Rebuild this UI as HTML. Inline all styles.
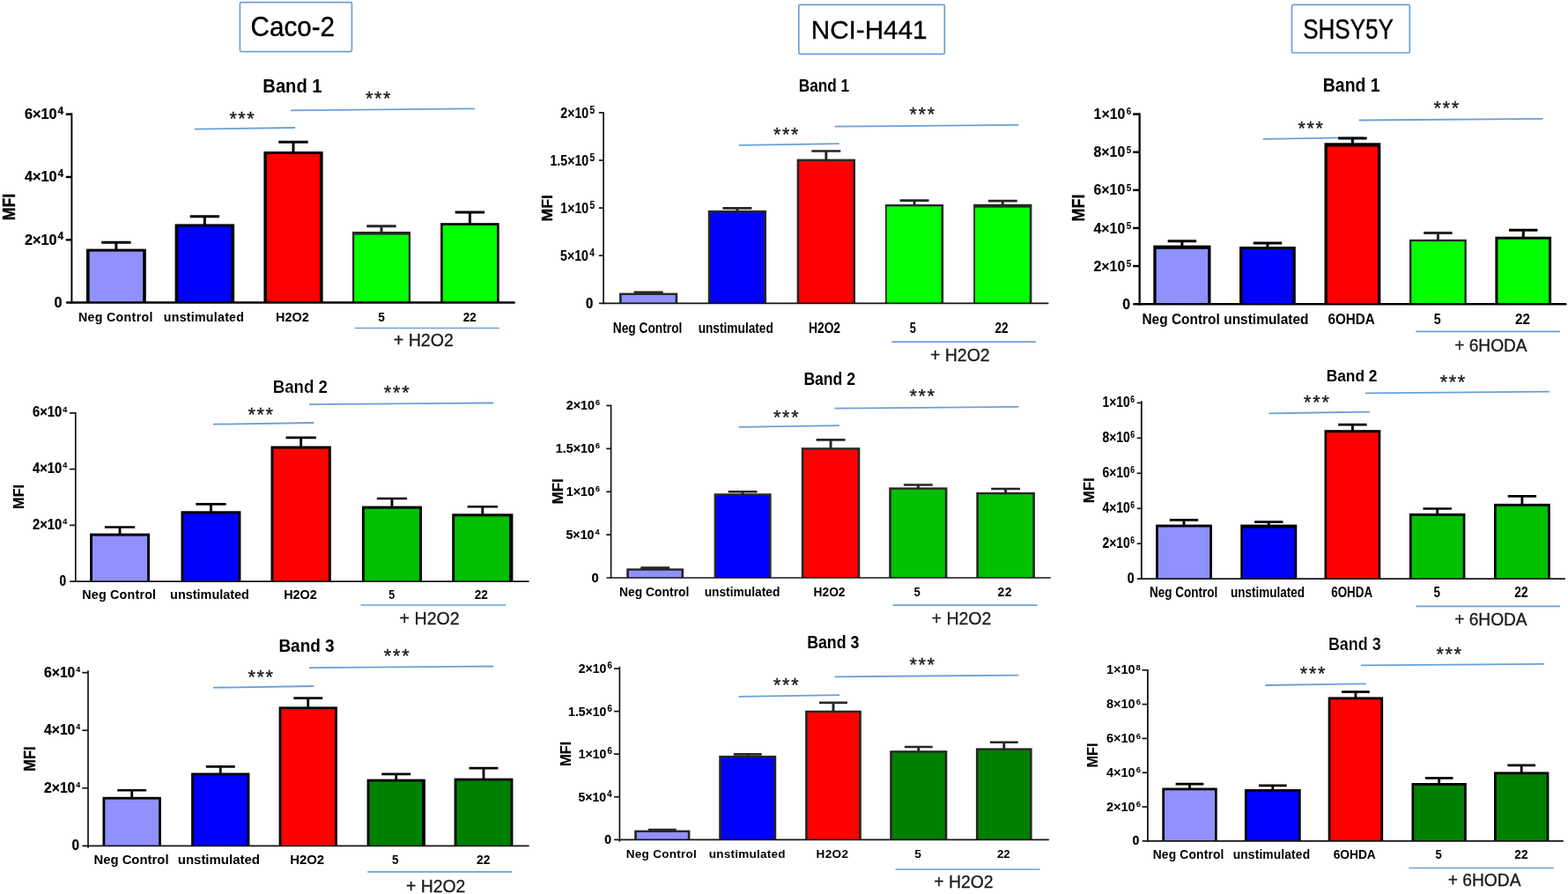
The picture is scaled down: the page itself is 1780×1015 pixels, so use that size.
<!DOCTYPE html>
<html lang="en">
<head>
<meta charset="utf-8">
<title>MFI bar charts: Caco-2, NCI-H441, SHSY5Y</title>
<style>
html,body{margin:0;padding:0;background:#fff;}
body{width:1780px;height:1015px;overflow:hidden;}
svg{display:block;font-family:"Liberation Sans",sans-serif;}
</style>
</head>
<body>
<svg width="1780" height="1015" viewBox="0 0 1780 1015">
<rect width="1780" height="1015" fill="#fff"/>
<g>
<line x1="221.50" y1="146.60" x2="334.40" y2="145.00" stroke="#6aa0d7" stroke-width="1.8" stroke-linecap="round"/>
<line x1="330.70" y1="125.40" x2="538.00" y2="123.40" stroke="#6aa0d7" stroke-width="1.8" stroke-linecap="round"/>
<line x1="131.90" y1="275.20" x2="131.90" y2="283.60" stroke="#000" stroke-width="3.0" stroke-linecap="butt"/>
<line x1="115.20" y1="275.20" x2="148.60" y2="275.20" stroke="#000" stroke-width="3.0" stroke-linecap="butt"/>
<rect x="98.00" y="282.60" width="67.80" height="61.00" fill="#000"/>
<rect x="101.60" y="285.60" width="60.60" height="58.00" fill="#9090ff"/>
<line x1="232.35" y1="245.80" x2="232.35" y2="255.40" stroke="#000" stroke-width="3.0" stroke-linecap="butt"/>
<line x1="215.65" y1="245.80" x2="249.05" y2="245.80" stroke="#000" stroke-width="3.0" stroke-linecap="butt"/>
<rect x="198.60" y="254.40" width="67.50" height="89.20" fill="#000"/>
<rect x="202.20" y="257.40" width="60.30" height="86.20" fill="#0000ff"/>
<line x1="333.00" y1="161.30" x2="333.00" y2="173.00" stroke="#000" stroke-width="3.0" stroke-linecap="butt"/>
<line x1="316.30" y1="161.30" x2="349.70" y2="161.30" stroke="#000" stroke-width="3.0" stroke-linecap="butt"/>
<rect x="299.40" y="172.00" width="67.20" height="171.60" fill="#000"/>
<rect x="303.00" y="175.00" width="60.00" height="168.60" fill="#ff0000"/>
<line x1="433.00" y1="256.70" x2="433.00" y2="264.00" stroke="#262626" stroke-width="3.0" stroke-linecap="butt"/>
<line x1="416.30" y1="256.70" x2="449.70" y2="256.70" stroke="#262626" stroke-width="3.0" stroke-linecap="butt"/>
<rect x="400.00" y="263.00" width="66.00" height="80.60" fill="#262626"/>
<rect x="402.20" y="266.60" width="61.60" height="77.00" fill="#00ff00"/>
<line x1="533.40" y1="241.00" x2="533.40" y2="254.20" stroke="#000" stroke-width="3.0" stroke-linecap="butt"/>
<line x1="516.70" y1="241.00" x2="550.10" y2="241.00" stroke="#000" stroke-width="3.0" stroke-linecap="butt"/>
<rect x="500.10" y="253.20" width="66.60" height="90.40" fill="#000"/>
<rect x="502.70" y="255.80" width="61.40" height="87.80" fill="#00ff00"/>
<line x1="81.40" y1="128.40" x2="81.40" y2="344.85" stroke="#000" stroke-width="1.9" stroke-linecap="butt"/>
<line x1="76.05" y1="343.60" x2="583.65" y2="343.60" stroke="#000" stroke-width="2.5" stroke-linecap="round"/>
<line x1="74.80" y1="129.65" x2="81.40" y2="129.65" stroke="#000" stroke-width="2.5" stroke-linecap="butt"/>
<text transform="translate(27.99,135.05) scale(0.9999,1)" font-size="16.3" font-weight="bold" fill="#000" stroke="#000" stroke-width="0.25">6×10<tspan dx="0.80" dy="-5.20" font-size="12">4</tspan></text>
<line x1="74.80" y1="200.97" x2="81.40" y2="200.97" stroke="#000" stroke-width="2.5" stroke-linecap="butt"/>
<text transform="translate(27.99,206.37) scale(0.9999,1)" font-size="16.3" font-weight="bold" fill="#000" stroke="#000" stroke-width="0.25">4×10<tspan dx="0.80" dy="-5.20" font-size="12">4</tspan></text>
<line x1="74.80" y1="272.28" x2="81.40" y2="272.28" stroke="#000" stroke-width="2.5" stroke-linecap="butt"/>
<text transform="translate(27.99,277.68) scale(0.9999,1)" font-size="16.3" font-weight="bold" fill="#000" stroke="#000" stroke-width="0.25">2×10<tspan dx="0.80" dy="-5.20" font-size="12">4</tspan></text>
<text transform="translate(61.55,349.00) scale(0.9945,1)" font-size="16.3" font-weight="bold" fill="#000" stroke="#000" stroke-width="0.25">0</text>
<text transform="translate(16.80,250.19) rotate(-90) scale(0.8863,1)" font-size="19.9" font-weight="bold" fill="#000" stroke="#000" stroke-width="0.35">MFI</text>
<text transform="translate(298.34,104.60) scale(0.9045,1)" font-size="22.3" font-weight="bold" fill="#000">Band 1</text>
<text x="260.42" y="141.53" font-size="21.5" font-weight="normal" fill="#1a1a1a" letter-spacing="1.576" stroke="#1a1a1a" stroke-width="0.35">***</text>
<text x="415.12" y="119.03" font-size="21.5" font-weight="normal" fill="#1a1a1a" letter-spacing="1.626" stroke="#1a1a1a" stroke-width="0.35">***</text>
<text x="89.04" y="364.90" font-size="14.2" font-weight="bold" fill="#000" letter-spacing="0.319">Neg Control</text>
<text x="185.81" y="364.90" font-size="14.2" font-weight="bold" fill="#000" letter-spacing="0.259">unstimulated</text>
<text transform="translate(313.03,364.90) scale(1.0149,1)" font-size="14.2" font-weight="bold" fill="#000">H2O2</text>
<text transform="translate(429.19,364.90) scale(0.9626,1)" font-size="14.2" font-weight="bold" fill="#000">5</text>
<text transform="translate(525.83,364.90) scale(0.9435,1)" font-size="14.2" font-weight="bold" fill="#000">22</text>
<line x1="402.80" y1="372.50" x2="566.90" y2="372.50" stroke="#6aa0d7" stroke-width="1.7" stroke-linecap="butt"/>
<text transform="translate(446.82,393.20) scale(0.9892,1)" font-size="19.8" font-weight="normal" fill="#1a1a1a" stroke="#1a1a1a" stroke-width="0.3">+ H2O2</text>
</g>
<g>
<line x1="242.70" y1="481.70" x2="355.60" y2="480.00" stroke="#6aa0d7" stroke-width="1.8" stroke-linecap="round"/>
<line x1="351.60" y1="459.20" x2="559.50" y2="457.50" stroke="#6aa0d7" stroke-width="1.8" stroke-linecap="round"/>
<line x1="136.05" y1="598.50" x2="136.05" y2="606.60" stroke="#000" stroke-width="2.8" stroke-linecap="butt"/>
<line x1="118.90" y1="598.50" x2="153.20" y2="598.50" stroke="#000" stroke-width="2.6" stroke-linecap="butt"/>
<rect x="102.10" y="605.60" width="67.90" height="54.50" fill="#000"/>
<rect x="105.00" y="608.60" width="62.10" height="51.50" fill="#9090ff"/>
<line x1="239.45" y1="572.40" x2="239.45" y2="581.30" stroke="#000" stroke-width="2.8" stroke-linecap="butt"/>
<line x1="222.30" y1="572.40" x2="256.60" y2="572.40" stroke="#000" stroke-width="2.6" stroke-linecap="butt"/>
<rect x="205.50" y="580.30" width="67.90" height="79.80" fill="#000"/>
<rect x="208.40" y="583.30" width="62.10" height="76.80" fill="#0000ff"/>
<line x1="341.65" y1="496.90" x2="341.65" y2="507.50" stroke="#000" stroke-width="2.8" stroke-linecap="butt"/>
<line x1="324.50" y1="496.90" x2="358.80" y2="496.90" stroke="#000" stroke-width="2.6" stroke-linecap="butt"/>
<rect x="307.50" y="506.50" width="68.30" height="153.60" fill="#000"/>
<rect x="310.40" y="509.50" width="62.50" height="150.60" fill="#ff0000"/>
<line x1="444.95" y1="566.00" x2="444.95" y2="575.60" stroke="#000" stroke-width="2.8" stroke-linecap="butt"/>
<line x1="427.80" y1="566.00" x2="462.10" y2="566.00" stroke="#000" stroke-width="2.6" stroke-linecap="butt"/>
<rect x="410.90" y="574.60" width="68.10" height="85.50" fill="#000"/>
<rect x="413.80" y="577.60" width="62.30" height="82.50" fill="#00c000"/>
<line x1="547.80" y1="575.20" x2="547.80" y2="584.30" stroke="#000" stroke-width="2.8" stroke-linecap="butt"/>
<line x1="530.65" y1="575.20" x2="564.95" y2="575.20" stroke="#000" stroke-width="2.6" stroke-linecap="butt"/>
<rect x="513.20" y="583.30" width="69.20" height="76.80" fill="#000"/>
<rect x="516.10" y="586.30" width="62.00" height="73.80" fill="#00c000"/>
<line x1="85.80" y1="468.05" x2="85.80" y2="660.95" stroke="#141414" stroke-width="1.7" stroke-linecap="butt"/>
<line x1="79.85" y1="660.10" x2="599.95" y2="660.10" stroke="#141414" stroke-width="1.7" stroke-linecap="round"/>
<line x1="79.00" y1="468.90" x2="85.80" y2="468.90" stroke="#141414" stroke-width="1.7" stroke-linecap="butt"/>
<text transform="translate(36.95,473.40) scale(0.9343,1)" font-size="15.8" font-weight="bold" fill="#000" stroke="#000" stroke-width="0.2">6×10<tspan dx="1.20" dy="-5.90" font-size="9.5">4</tspan></text>
<line x1="79.00" y1="532.63" x2="85.80" y2="532.63" stroke="#141414" stroke-width="1.7" stroke-linecap="butt"/>
<text transform="translate(36.95,537.13) scale(0.9343,1)" font-size="15.8" font-weight="bold" fill="#000" stroke="#000" stroke-width="0.2">4×10<tspan dx="1.20" dy="-5.90" font-size="9.5">4</tspan></text>
<line x1="79.00" y1="596.37" x2="85.80" y2="596.37" stroke="#141414" stroke-width="1.7" stroke-linecap="butt"/>
<text transform="translate(36.95,600.87) scale(0.9343,1)" font-size="15.8" font-weight="bold" fill="#000" stroke="#000" stroke-width="0.2">2×10<tspan dx="1.20" dy="-5.90" font-size="9.5">4</tspan></text>
<text transform="translate(67.45,664.60) scale(0.8661,1)" font-size="15.8" font-weight="bold" fill="#000" stroke="#000" stroke-width="0.25">0</text>
<text transform="translate(26.80,577.90) rotate(-90) scale(0.9732,1)" font-size="16.7" font-weight="bold" fill="#000" stroke="#000" stroke-width="0.1">MFI</text>
<text transform="translate(309.64,445.80) scale(0.9357,1)" font-size="20" font-weight="bold" fill="#000" stroke="#fff" stroke-width="0.18">Band 2</text>
<text x="281.62" y="478.03" font-size="21.5" font-weight="normal" fill="#1a1a1a" letter-spacing="1.626" stroke="#1a1a1a" stroke-width="0.35">***</text>
<text x="435.82" y="453.43" font-size="21.5" font-weight="normal" fill="#1a1a1a" letter-spacing="1.876" stroke="#1a1a1a" stroke-width="0.35">***</text>
<text x="93.23" y="679.90" font-size="14.3" font-weight="bold" fill="#000" letter-spacing="0.203">Neg Control</text>
<text transform="translate(193.10,679.90) scale(1.0097,1)" font-size="14.3" font-weight="bold" fill="#000">unstimulated</text>
<text transform="translate(322.13,679.90) scale(1.0078,1)" font-size="14.3" font-weight="bold" fill="#000">H2O2</text>
<text transform="translate(441.13,679.90) scale(0.8715,1)" font-size="14.3" font-weight="bold" fill="#000">5</text>
<text transform="translate(538.72,679.90) scale(0.9571,1)" font-size="14.3" font-weight="bold" fill="#000">22</text>
<line x1="409.50" y1="687.00" x2="574.00" y2="687.00" stroke="#6aa0d7" stroke-width="1.7" stroke-linecap="butt"/>
<text transform="translate(453.62,709.10) scale(0.9892,1)" font-size="19.8" font-weight="normal" fill="#1a1a1a" stroke="#1a1a1a" stroke-width="0.3">+ H2O2</text>
</g>
<g>
<line x1="242.70" y1="780.70" x2="355.60" y2="779.00" stroke="#6aa0d7" stroke-width="1.8" stroke-linecap="round"/>
<line x1="351.60" y1="758.10" x2="559.50" y2="756.50" stroke="#6aa0d7" stroke-width="1.8" stroke-linecap="round"/>
<line x1="149.70" y1="897.20" x2="149.70" y2="905.80" stroke="#000" stroke-width="2.8" stroke-linecap="butt"/>
<line x1="133.25" y1="897.20" x2="166.15" y2="897.20" stroke="#000" stroke-width="2.6" stroke-linecap="butt"/>
<rect x="116.50" y="904.80" width="66.40" height="55.50" fill="#000"/>
<rect x="119.30" y="907.60" width="60.80" height="52.70" fill="#9090ff"/>
<line x1="250.25" y1="870.40" x2="250.25" y2="878.50" stroke="#000" stroke-width="2.8" stroke-linecap="butt"/>
<line x1="233.80" y1="870.40" x2="266.70" y2="870.40" stroke="#000" stroke-width="2.6" stroke-linecap="butt"/>
<rect x="217.10" y="877.50" width="66.30" height="82.80" fill="#000"/>
<rect x="219.90" y="880.30" width="60.70" height="80.00" fill="#0000ff"/>
<line x1="349.75" y1="792.60" x2="349.75" y2="803.40" stroke="#000" stroke-width="2.8" stroke-linecap="butt"/>
<line x1="333.30" y1="792.60" x2="366.20" y2="792.60" stroke="#000" stroke-width="2.6" stroke-linecap="butt"/>
<rect x="316.60" y="802.40" width="66.30" height="157.90" fill="#000"/>
<rect x="319.40" y="805.20" width="60.70" height="155.10" fill="#ff0000"/>
<line x1="449.75" y1="878.90" x2="449.75" y2="885.60" stroke="#000" stroke-width="2.8" stroke-linecap="butt"/>
<line x1="433.30" y1="878.90" x2="466.20" y2="878.90" stroke="#000" stroke-width="2.6" stroke-linecap="butt"/>
<rect x="416.60" y="884.60" width="66.30" height="75.70" fill="#000"/>
<rect x="419.40" y="887.40" width="59.70" height="72.90" fill="#008000"/>
<line x1="549.00" y1="872.10" x2="549.00" y2="884.60" stroke="#000" stroke-width="2.8" stroke-linecap="butt"/>
<line x1="532.55" y1="872.10" x2="565.45" y2="872.10" stroke="#000" stroke-width="2.6" stroke-linecap="butt"/>
<rect x="515.60" y="883.60" width="66.80" height="76.70" fill="#000"/>
<rect x="518.40" y="886.40" width="61.20" height="73.90" fill="#008000"/>
<line x1="100.00" y1="761.20" x2="100.00" y2="962.65" stroke="#141414" stroke-width="1.7" stroke-linecap="butt"/>
<line x1="94.15" y1="960.30" x2="599.95" y2="960.30" stroke="#141414" stroke-width="1.7" stroke-linecap="round"/>
<line x1="93.30" y1="763.65" x2="100.00" y2="763.65" stroke="#141414" stroke-width="1.7" stroke-linecap="butt"/>
<text transform="translate(50.01,768.65) scale(0.9624,1)" font-size="16.3" font-weight="bold" fill="#000" stroke="#000" stroke-width="0.25">6×10<tspan dx="1.20" dy="-5.90" font-size="8.5">4</tspan></text>
<line x1="93.30" y1="829.20" x2="100.00" y2="829.20" stroke="#141414" stroke-width="1.7" stroke-linecap="butt"/>
<text transform="translate(50.01,834.20) scale(0.9624,1)" font-size="16.3" font-weight="bold" fill="#000" stroke="#000" stroke-width="0.25">4×10<tspan dx="1.20" dy="-5.90" font-size="8.5">4</tspan></text>
<line x1="93.30" y1="894.75" x2="100.00" y2="894.75" stroke="#141414" stroke-width="1.7" stroke-linecap="butt"/>
<text transform="translate(50.01,899.75) scale(0.9624,1)" font-size="16.3" font-weight="bold" fill="#000" stroke="#000" stroke-width="0.25">2×10<tspan dx="1.20" dy="-5.90" font-size="8.5">4</tspan></text>
<text transform="translate(81.39,965.30) scale(0.9428,1)" font-size="16.3" font-weight="bold" fill="#000" stroke="#000" stroke-width="0.25">0</text>
<text transform="translate(39.80,875.71) rotate(-90) scale(0.9150,1)" font-size="17.9" font-weight="bold" fill="#000" stroke="#000" stroke-width="0.3">MFI</text>
<text transform="translate(316.42,740.30) scale(0.9732,1)" font-size="19.5" font-weight="bold" fill="#000">Band 3</text>
<text x="281.62" y="775.73" font-size="21.5" font-weight="normal" fill="#1a1a1a" letter-spacing="1.626" stroke="#1a1a1a" stroke-width="0.35">***</text>
<text x="435.82" y="752.33" font-size="21.5" font-weight="normal" fill="#1a1a1a" letter-spacing="1.876" stroke="#1a1a1a" stroke-width="0.35">***</text>
<text transform="translate(106.39,981.20) scale(1.0066,1)" font-size="14.8" font-weight="bold" fill="#000">Neg Control</text>
<text transform="translate(201.76,981.20) scale(1.0132,1)" font-size="14.8" font-weight="bold" fill="#000">unstimulated</text>
<text transform="translate(329.19,981.20) scale(1.0061,1)" font-size="14.8" font-weight="bold" fill="#000">H2O2</text>
<text transform="translate(445.10,981.20) scale(0.9100,1)" font-size="14.8" font-weight="bold" fill="#000">5</text>
<text transform="translate(541.02,981.20) scale(0.9313,1)" font-size="14.8" font-weight="bold" fill="#000">22</text>
<line x1="417.30" y1="989.90" x2="580.90" y2="989.90" stroke="#6aa0d7" stroke-width="1.7" stroke-linecap="butt"/>
<text transform="translate(461.03,1013.40) scale(0.9787,1)" font-size="19.8" font-weight="normal" fill="#1a1a1a" stroke="#1a1a1a" stroke-width="0.3">+ H2O2</text>
</g>
<g>
<line x1="839.40" y1="164.80" x2="952.00" y2="163.10" stroke="#6aa0d7" stroke-width="1.8" stroke-linecap="round"/>
<line x1="948.30" y1="143.60" x2="1155.60" y2="141.90" stroke="#6aa0d7" stroke-width="1.8" stroke-linecap="round"/>
<line x1="719.65" y1="331.80" x2="752.65" y2="331.80" stroke="#262626" stroke-width="2.6" stroke-linecap="butt"/>
<rect x="703.10" y="332.60" width="66.10" height="11.70" fill="#262626"/>
<rect x="705.70" y="335.00" width="60.90" height="9.30" fill="#9090ff"/>
<line x1="836.90" y1="236.40" x2="836.90" y2="239.90" stroke="#262626" stroke-width="2.9" stroke-linecap="butt"/>
<line x1="820.40" y1="236.40" x2="853.40" y2="236.40" stroke="#262626" stroke-width="2.6" stroke-linecap="butt"/>
<rect x="803.80" y="238.90" width="66.20" height="105.40" fill="#262626"/>
<rect x="806.40" y="241.30" width="61.00" height="103.00" fill="#0000ff"/>
<line x1="937.80" y1="171.50" x2="937.80" y2="181.60" stroke="#262626" stroke-width="2.9" stroke-linecap="butt"/>
<line x1="921.30" y1="171.50" x2="954.30" y2="171.50" stroke="#262626" stroke-width="2.6" stroke-linecap="butt"/>
<rect x="904.60" y="180.60" width="66.40" height="163.70" fill="#262626"/>
<rect x="907.20" y="183.00" width="61.20" height="161.30" fill="#ff0000"/>
<line x1="1038.00" y1="227.60" x2="1038.00" y2="233.00" stroke="#262626" stroke-width="2.9" stroke-linecap="butt"/>
<line x1="1021.50" y1="227.60" x2="1054.50" y2="227.60" stroke="#262626" stroke-width="2.6" stroke-linecap="butt"/>
<rect x="1004.90" y="232.00" width="66.20" height="112.30" fill="#262626"/>
<rect x="1006.70" y="234.40" width="61.80" height="109.90" fill="#00ff00"/>
<line x1="1138.25" y1="228.10" x2="1138.25" y2="232.80" stroke="#262626" stroke-width="2.9" stroke-linecap="butt"/>
<line x1="1121.75" y1="228.10" x2="1154.75" y2="228.10" stroke="#262626" stroke-width="2.6" stroke-linecap="butt"/>
<rect x="1105.10" y="231.80" width="66.30" height="112.50" fill="#262626"/>
<rect x="1106.90" y="235.70" width="61.90" height="108.60" fill="#00ff00"/>
<line x1="685.10" y1="127.05" x2="685.10" y2="345.15" stroke="#141414" stroke-width="1.7" stroke-linecap="butt"/>
<line x1="680.75" y1="344.30" x2="1189.65" y2="344.30" stroke="#141414" stroke-width="1.7" stroke-linecap="round"/>
<line x1="679.90" y1="127.90" x2="685.10" y2="127.90" stroke="#141414" stroke-width="1.7" stroke-linecap="butt"/>
<text transform="translate(636.30,133.50) scale(0.8535,1)" font-size="16.6" font-weight="bold" fill="#000" stroke="#000" stroke-width="0.1">2×10<tspan dx="1.50" dy="-5.00" font-size="12">5</tspan></text>
<line x1="679.90" y1="182.00" x2="685.10" y2="182.00" stroke="#141414" stroke-width="1.7" stroke-linecap="butt"/>
<text transform="translate(624.49,187.60) scale(0.8535,1)" font-size="16.6" font-weight="bold" fill="#000" stroke="#000" stroke-width="0.1">1.5×10<tspan dx="1.50" dy="-5.00" font-size="12">5</tspan></text>
<line x1="679.90" y1="236.10" x2="685.10" y2="236.10" stroke="#141414" stroke-width="1.7" stroke-linecap="butt"/>
<text transform="translate(636.30,241.70) scale(0.8535,1)" font-size="16.6" font-weight="bold" fill="#000" stroke="#000" stroke-width="0.1">1×10<tspan dx="1.50" dy="-5.00" font-size="12">5</tspan></text>
<line x1="679.90" y1="290.20" x2="685.10" y2="290.20" stroke="#141414" stroke-width="1.7" stroke-linecap="butt"/>
<text transform="translate(636.07,295.80) scale(0.8535,1)" font-size="16.6" font-weight="bold" fill="#000" stroke="#000" stroke-width="0.1">5×10<tspan dx="1.50" dy="-5.00" font-size="12">4</tspan></text>
<text transform="translate(665.00,349.90) scale(0.9004,1)" font-size="16.6" font-weight="bold" fill="#000" stroke="#000" stroke-width="0.25">0</text>
<text transform="translate(627.20,251.39) rotate(-90) scale(1.0375,1)" font-size="17.0" font-weight="bold" fill="#000" stroke="#000" stroke-width="0.3">MFI</text>
<text transform="translate(906.84,103.50) scale(0.8475,1)" font-size="20.3" font-weight="bold" fill="#000">Band 1</text>
<text x="878.02" y="160.43" font-size="21.5" font-weight="normal" fill="#1a1a1a" letter-spacing="1.626" stroke="#1a1a1a" stroke-width="0.35">***</text>
<text x="1032.42" y="136.63" font-size="21.5" font-weight="normal" fill="#1a1a1a" letter-spacing="1.776" stroke="#1a1a1a" stroke-width="0.35">***</text>
<text transform="translate(695.77,378.00) scale(0.8436,1)" font-size="16.3" font-weight="bold" fill="#000">Neg Control</text>
<text transform="translate(792.64,378.00) scale(0.8405,1)" font-size="16.3" font-weight="bold" fill="#000">unstimulated</text>
<text transform="translate(918.07,378.00) scale(0.8449,1)" font-size="16.3" font-weight="bold" fill="#000">H2O2</text>
<text transform="translate(1032.82,378.00) scale(0.7769,1)" font-size="16.3" font-weight="bold" fill="#000">5</text>
<text transform="translate(1129.53,378.00) scale(0.8279,1)" font-size="16.3" font-weight="bold" fill="#000">22</text>
<line x1="1012.40" y1="388.10" x2="1175.80" y2="388.10" stroke="#6aa0d7" stroke-width="1.7" stroke-linecap="butt"/>
<text transform="translate(1056.02,410.20) scale(0.9847,1)" font-size="19.8" font-weight="normal" fill="#1a1a1a" stroke="#1a1a1a" stroke-width="0.3">+ H2O2</text>
</g>
<g>
<line x1="839.30" y1="484.80" x2="952.20" y2="483.10" stroke="#6aa0d7" stroke-width="1.8" stroke-linecap="round"/>
<line x1="948.20" y1="463.60" x2="1155.50" y2="461.90" stroke="#6aa0d7" stroke-width="1.8" stroke-linecap="round"/>
<line x1="727.25" y1="644.60" x2="760.15" y2="644.60" stroke="#262626" stroke-width="2.6" stroke-linecap="butt"/>
<rect x="711.30" y="645.40" width="64.80" height="10.60" fill="#262626"/>
<rect x="713.90" y="647.80" width="59.60" height="8.20" fill="#9090ff"/>
<line x1="843.10" y1="558.20" x2="843.10" y2="561.30" stroke="#262626" stroke-width="2.9" stroke-linecap="butt"/>
<line x1="826.65" y1="558.20" x2="859.55" y2="558.20" stroke="#262626" stroke-width="2.6" stroke-linecap="butt"/>
<rect x="810.60" y="560.30" width="65.00" height="95.70" fill="#262626"/>
<rect x="813.20" y="562.70" width="59.80" height="93.30" fill="#0000ff"/>
<line x1="943.05" y1="499.40" x2="943.05" y2="509.20" stroke="#262626" stroke-width="2.9" stroke-linecap="butt"/>
<line x1="926.60" y1="499.40" x2="959.50" y2="499.40" stroke="#262626" stroke-width="2.6" stroke-linecap="butt"/>
<rect x="909.80" y="508.20" width="66.50" height="147.80" fill="#262626"/>
<rect x="912.40" y="510.60" width="61.30" height="145.40" fill="#ff0000"/>
<line x1="1042.30" y1="550.50" x2="1042.30" y2="554.40" stroke="#262626" stroke-width="2.9" stroke-linecap="butt"/>
<line x1="1025.85" y1="550.50" x2="1058.75" y2="550.50" stroke="#262626" stroke-width="2.6" stroke-linecap="butt"/>
<rect x="1009.20" y="553.40" width="66.20" height="102.60" fill="#262626"/>
<rect x="1011.80" y="555.80" width="61.00" height="100.20" fill="#00c000"/>
<line x1="1141.60" y1="555.00" x2="1141.60" y2="559.90" stroke="#262626" stroke-width="2.9" stroke-linecap="butt"/>
<line x1="1125.15" y1="555.00" x2="1158.05" y2="555.00" stroke="#262626" stroke-width="2.6" stroke-linecap="butt"/>
<rect x="1108.30" y="558.90" width="66.60" height="97.10" fill="#262626"/>
<rect x="1110.90" y="561.30" width="61.40" height="94.70" fill="#00c000"/>
<line x1="693.60" y1="459.65" x2="693.60" y2="656.85" stroke="#141414" stroke-width="1.7" stroke-linecap="butt"/>
<line x1="689.15" y1="656.00" x2="1192.15" y2="656.00" stroke="#141414" stroke-width="1.7" stroke-linecap="round"/>
<line x1="688.30" y1="460.50" x2="693.60" y2="460.50" stroke="#141414" stroke-width="1.7" stroke-linecap="butt"/>
<text transform="translate(642.70,465.40) scale(0.9388,1)" font-size="15.2" font-weight="bold" fill="#000" stroke="#000" stroke-width="0.15">2×10<tspan dx="1.30" dy="-5.30" font-size="9.5">6</tspan></text>
<line x1="688.30" y1="509.38" x2="693.60" y2="509.38" stroke="#141414" stroke-width="1.7" stroke-linecap="butt"/>
<text transform="translate(630.80,514.27) scale(0.9388,1)" font-size="15.2" font-weight="bold" fill="#000" stroke="#000" stroke-width="0.15">1.5×10<tspan dx="1.30" dy="-5.30" font-size="9.5">6</tspan></text>
<line x1="688.30" y1="558.25" x2="693.60" y2="558.25" stroke="#141414" stroke-width="1.7" stroke-linecap="butt"/>
<text transform="translate(642.70,563.15) scale(0.9388,1)" font-size="15.2" font-weight="bold" fill="#000" stroke="#000" stroke-width="0.15">1×10<tspan dx="1.30" dy="-5.30" font-size="9.5">6</tspan></text>
<line x1="688.30" y1="607.12" x2="693.60" y2="607.12" stroke="#141414" stroke-width="1.7" stroke-linecap="butt"/>
<text transform="translate(642.43,612.02) scale(0.9388,1)" font-size="15.2" font-weight="bold" fill="#000" stroke="#000" stroke-width="0.15">5×10<tspan dx="1.30" dy="-5.30" font-size="9.5">4</tspan></text>
<text transform="translate(671.41,660.90) scale(0.9695,1)" font-size="15.2" font-weight="bold" fill="#000" stroke="#000" stroke-width="0.25">0</text>
<text transform="translate(639.00,572.13) rotate(-90) scale(0.9915,1)" font-size="16.9" font-weight="bold" fill="#000" stroke="#000" stroke-width="0.25">MFI</text>
<text transform="translate(912.41,436.70) scale(0.8784,1)" font-size="20" font-weight="bold" fill="#000">Band 2</text>
<text x="877.92" y="480.83" font-size="21.5" font-weight="normal" fill="#1a1a1a" letter-spacing="1.776" stroke="#1a1a1a" stroke-width="0.35">***</text>
<text x="1032.62" y="457.33" font-size="21.5" font-weight="normal" fill="#1a1a1a" letter-spacing="1.626" stroke="#1a1a1a" stroke-width="0.35">***</text>
<text transform="translate(703.06,676.70) scale(0.9983,1)" font-size="13.9" font-weight="bold" fill="#000">Neg Control</text>
<text transform="translate(799.64,676.70) scale(0.9915,1)" font-size="13.9" font-weight="bold" fill="#000">unstimulated</text>
<text transform="translate(923.57,676.70) scale(0.9908,1)" font-size="13.9" font-weight="bold" fill="#000">H2O2</text>
<text transform="translate(1037.61,676.70) scale(0.9400,1)" font-size="13.9" font-weight="bold" fill="#000">5</text>
<text x="1132.61" y="676.70" font-size="13.9" font-weight="bold" fill="#000" letter-spacing="0.379">22</text>
<line x1="1013.60" y1="687.10" x2="1177.40" y2="687.10" stroke="#6aa0d7" stroke-width="1.7" stroke-linecap="butt"/>
<text transform="translate(1057.62,708.80) scale(0.9847,1)" font-size="19.8" font-weight="normal" fill="#1a1a1a" stroke="#1a1a1a" stroke-width="0.3">+ H2O2</text>
</g>
<g>
<line x1="839.30" y1="790.80" x2="952.20" y2="789.20" stroke="#6aa0d7" stroke-width="1.8" stroke-linecap="round"/>
<line x1="948.20" y1="768.30" x2="1155.50" y2="766.60" stroke="#6aa0d7" stroke-width="1.8" stroke-linecap="round"/>
<line x1="735.85" y1="942.10" x2="767.75" y2="942.10" stroke="#262626" stroke-width="2.6" stroke-linecap="butt"/>
<rect x="720.20" y="942.60" width="63.20" height="10.70" fill="#262626"/>
<rect x="722.80" y="945.00" width="58.00" height="8.30" fill="#9090ff"/>
<line x1="848.70" y1="856.40" x2="848.70" y2="858.90" stroke="#262626" stroke-width="2.9" stroke-linecap="butt"/>
<line x1="832.75" y1="856.40" x2="864.65" y2="856.40" stroke="#262626" stroke-width="2.6" stroke-linecap="butt"/>
<rect x="816.20" y="857.90" width="65.00" height="95.40" fill="#262626"/>
<rect x="818.80" y="860.30" width="59.80" height="93.00" fill="#0000ff"/>
<line x1="945.95" y1="797.80" x2="945.95" y2="807.70" stroke="#262626" stroke-width="2.9" stroke-linecap="butt"/>
<line x1="930.00" y1="797.80" x2="961.90" y2="797.80" stroke="#262626" stroke-width="2.6" stroke-linecap="butt"/>
<rect x="914.10" y="806.70" width="63.70" height="146.60" fill="#262626"/>
<rect x="916.70" y="809.10" width="58.50" height="144.20" fill="#ff0000"/>
<line x1="1042.75" y1="848.00" x2="1042.75" y2="853.20" stroke="#262626" stroke-width="2.9" stroke-linecap="butt"/>
<line x1="1026.80" y1="848.00" x2="1058.70" y2="848.00" stroke="#262626" stroke-width="2.6" stroke-linecap="butt"/>
<rect x="1010.20" y="852.20" width="65.10" height="101.10" fill="#262626"/>
<rect x="1012.80" y="854.60" width="59.90" height="98.70" fill="#008000"/>
<line x1="1139.75" y1="842.80" x2="1139.75" y2="850.40" stroke="#262626" stroke-width="2.9" stroke-linecap="butt"/>
<line x1="1123.80" y1="842.80" x2="1155.70" y2="842.80" stroke="#262626" stroke-width="2.6" stroke-linecap="butt"/>
<rect x="1107.90" y="849.40" width="63.70" height="103.90" fill="#262626"/>
<rect x="1110.50" y="851.80" width="58.50" height="101.50" fill="#008000"/>
<line x1="703.40" y1="756.80" x2="703.40" y2="955.65" stroke="#141414" stroke-width="1.7" stroke-linecap="butt"/>
<line x1="697.85" y1="953.30" x2="1190.15" y2="953.30" stroke="#141414" stroke-width="1.7" stroke-linecap="round"/>
<line x1="697.00" y1="759.05" x2="703.40" y2="759.05" stroke="#141414" stroke-width="1.7" stroke-linecap="butt"/>
<text transform="translate(656.81,763.95) scale(0.9218,1)" font-size="15.2" font-weight="bold" fill="#000" stroke="#000" stroke-width="0.15">2×10<tspan dx="1.30" dy="-4.60" font-size="10.5">6</tspan></text>
<line x1="697.00" y1="807.61" x2="703.40" y2="807.61" stroke="#141414" stroke-width="1.7" stroke-linecap="butt"/>
<text transform="translate(645.12,812.51) scale(0.9218,1)" font-size="15.2" font-weight="bold" fill="#000" stroke="#000" stroke-width="0.15">1.5×10<tspan dx="1.30" dy="-4.60" font-size="10.5">6</tspan></text>
<line x1="697.00" y1="856.17" x2="703.40" y2="856.17" stroke="#141414" stroke-width="1.7" stroke-linecap="butt"/>
<text transform="translate(656.81,861.07) scale(0.9218,1)" font-size="15.2" font-weight="bold" fill="#000" stroke="#000" stroke-width="0.15">1×10<tspan dx="1.30" dy="-4.60" font-size="10.5">6</tspan></text>
<line x1="697.00" y1="904.74" x2="703.40" y2="904.74" stroke="#141414" stroke-width="1.7" stroke-linecap="butt"/>
<text transform="translate(656.52,909.64) scale(0.9218,1)" font-size="15.2" font-weight="bold" fill="#000" stroke="#000" stroke-width="0.15">5×10<tspan dx="1.30" dy="-4.60" font-size="10.5">4</tspan></text>
<text transform="translate(686.14,958.20) scale(0.9280,1)" font-size="15.2" font-weight="bold" fill="#000" stroke="#000" stroke-width="0.25">0</text>
<text transform="translate(647.60,870.11) rotate(-90) scale(0.9883,1)" font-size="16.7" font-weight="bold" fill="#000" stroke="#000" stroke-width="0.1">MFI</text>
<text transform="translate(916.20,735.60) scale(0.8870,1)" font-size="20" font-weight="bold" fill="#000">Band 3</text>
<text x="877.92" y="785.43" font-size="21.5" font-weight="normal" fill="#1a1a1a" letter-spacing="1.776" stroke="#1a1a1a" stroke-width="0.35">***</text>
<text x="1032.62" y="762.33" font-size="21.5" font-weight="normal" fill="#1a1a1a" letter-spacing="1.626" stroke="#1a1a1a" stroke-width="0.35">***</text>
<text x="710.79" y="974.20" font-size="13.5" font-weight="bold" fill="#000" letter-spacing="0.280">Neg Control</text>
<text x="804.66" y="974.20" font-size="13.5" font-weight="bold" fill="#000" letter-spacing="0.247">unstimulated</text>
<text x="926.59" y="974.20" font-size="13.5" font-weight="bold" fill="#000" letter-spacing="0.394">H2O2</text>
<text transform="translate(1038.29,974.20) scale(1.0125,1)" font-size="13.5" font-weight="bold" fill="#000">5</text>
<text transform="translate(1131.93,974.20) scale(0.9853,1)" font-size="13.5" font-weight="bold" fill="#000">22</text>
<line x1="1016.60" y1="987.00" x2="1180.60" y2="987.00" stroke="#6aa0d7" stroke-width="1.7" stroke-linecap="butt"/>
<text transform="translate(1060.33,1007.70) scale(0.9787,1)" font-size="19.8" font-weight="normal" fill="#1a1a1a" stroke="#1a1a1a" stroke-width="0.3">+ H2O2</text>
</g>
<g>
<line x1="1434.50" y1="157.80" x2="1547.40" y2="156.10" stroke="#6aa0d7" stroke-width="1.8" stroke-linecap="round"/>
<line x1="1543.40" y1="136.50" x2="1750.70" y2="134.80" stroke="#6aa0d7" stroke-width="1.8" stroke-linecap="round"/>
<line x1="1341.90" y1="273.70" x2="1341.90" y2="279.60" stroke="#000" stroke-width="3.0" stroke-linecap="butt"/>
<line x1="1325.65" y1="273.70" x2="1358.15" y2="273.70" stroke="#000" stroke-width="3.0" stroke-linecap="butt"/>
<rect x="1309.30" y="278.60" width="65.20" height="66.60" fill="#000"/>
<rect x="1312.60" y="282.80" width="58.60" height="62.40" fill="#9090ff"/>
<line x1="1438.95" y1="275.90" x2="1438.95" y2="281.00" stroke="#000" stroke-width="3.0" stroke-linecap="butt"/>
<line x1="1422.70" y1="275.90" x2="1455.20" y2="275.90" stroke="#000" stroke-width="3.0" stroke-linecap="butt"/>
<rect x="1407.10" y="280.00" width="63.70" height="65.20" fill="#000"/>
<rect x="1410.40" y="283.00" width="57.10" height="62.20" fill="#0000ff"/>
<line x1="1535.40" y1="156.90" x2="1535.40" y2="163.30" stroke="#000" stroke-width="3.0" stroke-linecap="butt"/>
<line x1="1519.15" y1="156.90" x2="1551.65" y2="156.90" stroke="#000" stroke-width="3.0" stroke-linecap="butt"/>
<rect x="1503.50" y="162.30" width="63.80" height="182.90" fill="#000"/>
<rect x="1506.80" y="166.50" width="57.20" height="178.70" fill="#ff0000"/>
<line x1="1632.40" y1="264.40" x2="1632.40" y2="272.80" stroke="#262626" stroke-width="3.0" stroke-linecap="butt"/>
<line x1="1616.15" y1="264.40" x2="1648.65" y2="264.40" stroke="#262626" stroke-width="3.0" stroke-linecap="butt"/>
<rect x="1600.00" y="271.80" width="64.80" height="73.40" fill="#262626"/>
<rect x="1602.30" y="274.10" width="60.20" height="71.10" fill="#00ff00"/>
<line x1="1729.25" y1="261.30" x2="1729.25" y2="269.70" stroke="#000" stroke-width="3.0" stroke-linecap="butt"/>
<line x1="1713.00" y1="261.30" x2="1745.50" y2="261.30" stroke="#000" stroke-width="3.0" stroke-linecap="butt"/>
<rect x="1697.40" y="268.70" width="63.70" height="76.50" fill="#000"/>
<rect x="1700.40" y="271.70" width="57.70" height="73.50" fill="#00ff00"/>
<line x1="1293.65" y1="128.35" x2="1293.65" y2="346.45" stroke="#000" stroke-width="2.3" stroke-linecap="butt"/>
<line x1="1287.35" y1="345.20" x2="1777.25" y2="345.20" stroke="#000" stroke-width="2.5" stroke-linecap="round"/>
<line x1="1286.10" y1="129.60" x2="1293.65" y2="129.60" stroke="#000" stroke-width="2.5" stroke-linecap="butt"/>
<text transform="translate(1241.61,135.20) scale(0.9179,1)" font-size="17.3" font-weight="bold" fill="#000" stroke="#000" stroke-width="0.1">1×10<tspan dx="1.60" dy="-4.80" font-size="10.8">6</tspan></text>
<line x1="1286.10" y1="172.72" x2="1293.65" y2="172.72" stroke="#000" stroke-width="2.5" stroke-linecap="butt"/>
<text transform="translate(1241.53,178.32) scale(0.9179,1)" font-size="17.3" font-weight="bold" fill="#000" stroke="#000" stroke-width="0.1">8×10<tspan dx="1.60" dy="-4.80" font-size="10.8">5</tspan></text>
<line x1="1286.10" y1="215.84" x2="1293.65" y2="215.84" stroke="#000" stroke-width="2.5" stroke-linecap="butt"/>
<text transform="translate(1241.53,221.44) scale(0.9179,1)" font-size="17.3" font-weight="bold" fill="#000" stroke="#000" stroke-width="0.1">6×10<tspan dx="1.60" dy="-4.80" font-size="10.8">5</tspan></text>
<line x1="1286.10" y1="258.96" x2="1293.65" y2="258.96" stroke="#000" stroke-width="2.5" stroke-linecap="butt"/>
<text transform="translate(1241.53,264.56) scale(0.9179,1)" font-size="17.3" font-weight="bold" fill="#000" stroke="#000" stroke-width="0.1">4×10<tspan dx="1.60" dy="-4.80" font-size="10.8">5</tspan></text>
<line x1="1286.10" y1="302.08" x2="1293.65" y2="302.08" stroke="#000" stroke-width="2.5" stroke-linecap="butt"/>
<text transform="translate(1241.53,307.68) scale(0.9179,1)" font-size="17.3" font-weight="bold" fill="#000" stroke="#000" stroke-width="0.1">2×10<tspan dx="1.60" dy="-4.80" font-size="10.8">5</tspan></text>
<text transform="translate(1274.17,350.80) scale(0.9127,1)" font-size="17.3" font-weight="bold" fill="#000" stroke="#000" stroke-width="0.25">0</text>
<text transform="translate(1230.50,251.41) rotate(-90) scale(0.9269,1)" font-size="19.3" font-weight="bold" fill="#000" stroke="#000" stroke-width="0.3">MFI</text>
<text transform="translate(1501.79,104.00) scale(0.8845,1)" font-size="22" font-weight="bold" fill="#000">Band 1</text>
<text x="1473.42" y="153.13" font-size="21.5" font-weight="normal" fill="#1a1a1a" letter-spacing="1.626" stroke="#1a1a1a" stroke-width="0.35">***</text>
<text x="1627.42" y="130.43" font-size="21.5" font-weight="normal" fill="#1a1a1a" letter-spacing="1.826" stroke="#1a1a1a" stroke-width="0.35">***</text>
<text transform="translate(1296.46,367.80) scale(0.8984,1)" font-size="17.2" font-weight="bold" fill="#000">Neg Control</text>
<text transform="translate(1389.23,367.80) scale(0.8995,1)" font-size="17.2" font-weight="bold" fill="#000">unstimulated</text>
<text transform="translate(1507.53,367.80) scale(0.8852,1)" font-size="17.2" font-weight="bold" fill="#000">6OHDA</text>
<text transform="translate(1627.67,367.80) scale(0.8297,1)" font-size="17.2" font-weight="bold" fill="#000">5</text>
<text transform="translate(1719.97,367.80) scale(0.8854,1)" font-size="17.2" font-weight="bold" fill="#000">22</text>
<line x1="1607.40" y1="376.30" x2="1770.90" y2="376.30" stroke="#6aa0d7" stroke-width="1.7" stroke-linecap="butt"/>
<text transform="translate(1651.14,398.80) scale(0.9931,1)" font-size="19.3" font-weight="normal" fill="#1a1a1a" stroke="#1a1a1a" stroke-width="0.3">+ 6HODA</text>
</g>
<g>
<line x1="1441.20" y1="469.30" x2="1554.20" y2="467.60" stroke="#6aa0d7" stroke-width="1.8" stroke-linecap="round"/>
<line x1="1550.80" y1="446.40" x2="1758.10" y2="444.70" stroke="#6aa0d7" stroke-width="1.8" stroke-linecap="round"/>
<line x1="1344.00" y1="590.40" x2="1344.00" y2="596.60" stroke="#000" stroke-width="2.8" stroke-linecap="butt"/>
<line x1="1327.80" y1="590.40" x2="1360.20" y2="590.40" stroke="#000" stroke-width="2.7" stroke-linecap="butt"/>
<rect x="1312.10" y="595.60" width="63.80" height="61.60" fill="#000"/>
<rect x="1314.80" y="598.50" width="58.40" height="58.70" fill="#9090ff"/>
<line x1="1440.30" y1="592.60" x2="1440.30" y2="596.60" stroke="#000" stroke-width="2.8" stroke-linecap="butt"/>
<line x1="1424.10" y1="592.60" x2="1456.50" y2="592.60" stroke="#000" stroke-width="2.7" stroke-linecap="butt"/>
<rect x="1408.30" y="595.60" width="64.00" height="61.60" fill="#000"/>
<rect x="1411.00" y="599.60" width="58.60" height="57.60" fill="#0000ff"/>
<line x1="1535.40" y1="482.10" x2="1535.40" y2="489.20" stroke="#000" stroke-width="2.8" stroke-linecap="butt"/>
<line x1="1519.20" y1="482.10" x2="1551.60" y2="482.10" stroke="#000" stroke-width="2.7" stroke-linecap="butt"/>
<rect x="1503.50" y="488.20" width="63.80" height="169.00" fill="#000"/>
<rect x="1506.20" y="491.10" width="58.40" height="166.10" fill="#ff0000"/>
<line x1="1631.65" y1="577.50" x2="1631.65" y2="583.90" stroke="#000" stroke-width="2.8" stroke-linecap="butt"/>
<line x1="1615.45" y1="577.50" x2="1647.85" y2="577.50" stroke="#000" stroke-width="2.7" stroke-linecap="butt"/>
<rect x="1599.90" y="582.90" width="63.50" height="74.30" fill="#000"/>
<rect x="1602.60" y="585.80" width="58.10" height="71.40" fill="#00c000"/>
<line x1="1727.90" y1="563.30" x2="1727.90" y2="572.90" stroke="#000" stroke-width="2.8" stroke-linecap="butt"/>
<line x1="1711.70" y1="563.30" x2="1744.10" y2="563.30" stroke="#000" stroke-width="2.7" stroke-linecap="butt"/>
<rect x="1696.00" y="571.90" width="63.80" height="85.30" fill="#000"/>
<rect x="1698.70" y="574.80" width="58.40" height="82.40" fill="#00c000"/>
<line x1="1295.85" y1="455.15" x2="1295.85" y2="658.05" stroke="#141414" stroke-width="1.8" stroke-linecap="butt"/>
<line x1="1291.55" y1="657.20" x2="1776.15" y2="657.20" stroke="#141414" stroke-width="1.7" stroke-linecap="round"/>
<line x1="1290.70" y1="457.40" x2="1295.85" y2="457.40" stroke="#141414" stroke-width="1.7" stroke-linecap="butt"/>
<text transform="translate(1251.43,462.20) scale(0.8269,1)" font-size="16.8" font-weight="bold" fill="#000" stroke="#000" stroke-width="0.1">1×10<tspan dx="0.80" dy="-4.80" font-size="10.5">6</tspan></text>
<line x1="1290.70" y1="497.36" x2="1295.85" y2="497.36" stroke="#141414" stroke-width="1.7" stroke-linecap="butt"/>
<text transform="translate(1251.43,502.16) scale(0.8269,1)" font-size="16.8" font-weight="bold" fill="#000" stroke="#000" stroke-width="0.1">8×10<tspan dx="0.80" dy="-4.80" font-size="10.5">6</tspan></text>
<line x1="1290.70" y1="537.32" x2="1295.85" y2="537.32" stroke="#141414" stroke-width="1.7" stroke-linecap="butt"/>
<text transform="translate(1251.43,542.12) scale(0.8269,1)" font-size="16.8" font-weight="bold" fill="#000" stroke="#000" stroke-width="0.1">6×10<tspan dx="0.80" dy="-4.80" font-size="10.5">6</tspan></text>
<line x1="1290.70" y1="577.28" x2="1295.85" y2="577.28" stroke="#141414" stroke-width="1.7" stroke-linecap="butt"/>
<text transform="translate(1251.43,582.08) scale(0.8269,1)" font-size="16.8" font-weight="bold" fill="#000" stroke="#000" stroke-width="0.1">4×10<tspan dx="0.80" dy="-4.80" font-size="10.5">6</tspan></text>
<line x1="1290.70" y1="617.24" x2="1295.85" y2="617.24" stroke="#141414" stroke-width="1.7" stroke-linecap="butt"/>
<text transform="translate(1251.43,622.04) scale(0.8269,1)" font-size="16.8" font-weight="bold" fill="#000" stroke="#000" stroke-width="0.1">2×10<tspan dx="0.80" dy="-4.80" font-size="10.5">6</tspan></text>
<text transform="translate(1279.74,662.00) scale(0.8396,1)" font-size="16.8" font-weight="bold" fill="#000" stroke="#000" stroke-width="0.25">0</text>
<text transform="translate(1241.70,571.13) rotate(-90) scale(0.9856,1)" font-size="17.0" font-weight="bold" fill="#000" stroke="#000" stroke-width="0.25">MFI</text>
<text transform="translate(1505.63,432.90) scale(0.9132,1)" font-size="19" font-weight="bold" fill="#000">Band 2</text>
<text x="1480.12" y="463.83" font-size="21.5" font-weight="normal" fill="#1a1a1a" letter-spacing="1.776" stroke="#1a1a1a" stroke-width="0.35">***</text>
<text x="1634.82" y="440.83" font-size="21.5" font-weight="normal" fill="#1a1a1a" letter-spacing="1.626" stroke="#1a1a1a" stroke-width="0.35">***</text>
<text transform="translate(1304.99,678.00) scale(0.8556,1)" font-size="15.8" font-weight="bold" fill="#000">Neg Control</text>
<text transform="translate(1397.06,678.00) scale(0.8546,1)" font-size="15.8" font-weight="bold" fill="#000">unstimulated</text>
<text transform="translate(1511.30,678.00) scale(0.8457,1)" font-size="15.8" font-weight="bold" fill="#000">6OHDA</text>
<text transform="translate(1627.40,678.00) scale(0.8524,1)" font-size="15.8" font-weight="bold" fill="#000">5</text>
<text transform="translate(1719.32,678.00) scale(0.8662,1)" font-size="15.8" font-weight="bold" fill="#000">22</text>
<line x1="1607.40" y1="688.40" x2="1770.90" y2="688.40" stroke="#6aa0d7" stroke-width="1.7" stroke-linecap="butt"/>
<text transform="translate(1651.14,710.10) scale(0.9931,1)" font-size="19.3" font-weight="normal" fill="#1a1a1a" stroke="#1a1a1a" stroke-width="0.3">+ 6HODA</text>
</g>
<g>
<line x1="1437.20" y1="778.00" x2="1550.10" y2="776.30" stroke="#6aa0d7" stroke-width="1.8" stroke-linecap="round"/>
<line x1="1545.70" y1="755.40" x2="1752.40" y2="753.80" stroke="#6aa0d7" stroke-width="1.8" stroke-linecap="round"/>
<line x1="1350.50" y1="890.10" x2="1350.50" y2="895.50" stroke="#000" stroke-width="2.8" stroke-linecap="butt"/>
<line x1="1334.65" y1="890.10" x2="1366.35" y2="890.10" stroke="#000" stroke-width="2.7" stroke-linecap="butt"/>
<rect x="1319.30" y="894.50" width="62.40" height="60.35" fill="#000"/>
<rect x="1322.00" y="897.30" width="57.00" height="57.55" fill="#9090ff"/>
<line x1="1444.80" y1="891.90" x2="1444.80" y2="897.00" stroke="#000" stroke-width="2.8" stroke-linecap="butt"/>
<line x1="1428.95" y1="891.90" x2="1460.65" y2="891.90" stroke="#000" stroke-width="2.7" stroke-linecap="butt"/>
<rect x="1412.90" y="896.00" width="63.80" height="58.85" fill="#000"/>
<rect x="1415.60" y="898.80" width="58.40" height="56.05" fill="#0000ff"/>
<line x1="1538.90" y1="785.50" x2="1538.90" y2="792.40" stroke="#000" stroke-width="2.8" stroke-linecap="butt"/>
<line x1="1523.05" y1="785.50" x2="1554.75" y2="785.50" stroke="#000" stroke-width="2.7" stroke-linecap="butt"/>
<rect x="1507.70" y="791.40" width="62.40" height="163.45" fill="#000"/>
<rect x="1510.40" y="794.20" width="57.00" height="160.65" fill="#ff0000"/>
<line x1="1633.65" y1="883.30" x2="1633.65" y2="890.00" stroke="#000" stroke-width="2.8" stroke-linecap="butt"/>
<line x1="1617.80" y1="883.30" x2="1649.50" y2="883.30" stroke="#000" stroke-width="2.7" stroke-linecap="butt"/>
<rect x="1602.50" y="889.00" width="62.30" height="65.85" fill="#000"/>
<rect x="1605.20" y="891.80" width="56.90" height="63.05" fill="#008000"/>
<line x1="1727.20" y1="868.80" x2="1727.20" y2="877.40" stroke="#000" stroke-width="2.8" stroke-linecap="butt"/>
<line x1="1711.35" y1="868.80" x2="1743.05" y2="868.80" stroke="#000" stroke-width="2.7" stroke-linecap="butt"/>
<rect x="1696.00" y="876.40" width="62.40" height="78.45" fill="#000"/>
<rect x="1698.70" y="879.20" width="57.00" height="75.65" fill="#008000"/>
<line x1="1302.90" y1="759.95" x2="1302.90" y2="955.70" stroke="#141414" stroke-width="1.8" stroke-linecap="butt"/>
<line x1="1297.35" y1="954.85" x2="1774.15" y2="954.85" stroke="#141414" stroke-width="1.7" stroke-linecap="round"/>
<line x1="1296.50" y1="760.80" x2="1302.90" y2="760.80" stroke="#141414" stroke-width="1.7" stroke-linecap="butt"/>
<text transform="translate(1255.89,765.40) scale(0.9694,1)" font-size="15" font-weight="bold" fill="#000" stroke="#000" stroke-width="0.0">1×10<tspan dx="1.00" dy="-4.50" font-size="9.8">8</tspan></text>
<line x1="1296.50" y1="799.61" x2="1302.90" y2="799.61" stroke="#141414" stroke-width="1.7" stroke-linecap="butt"/>
<text transform="translate(1255.94,804.21) scale(0.9694,1)" font-size="15" font-weight="bold" fill="#000" stroke="#000" stroke-width="0.0">8×10<tspan dx="1.00" dy="-4.50" font-size="9.8">6</tspan></text>
<line x1="1296.50" y1="838.42" x2="1302.90" y2="838.42" stroke="#141414" stroke-width="1.7" stroke-linecap="butt"/>
<text transform="translate(1255.94,843.02) scale(0.9694,1)" font-size="15" font-weight="bold" fill="#000" stroke="#000" stroke-width="0.0">6×10<tspan dx="1.00" dy="-4.50" font-size="9.8">6</tspan></text>
<line x1="1296.50" y1="877.23" x2="1302.90" y2="877.23" stroke="#141414" stroke-width="1.7" stroke-linecap="butt"/>
<text transform="translate(1255.94,881.83) scale(0.9694,1)" font-size="15" font-weight="bold" fill="#000" stroke="#000" stroke-width="0.0">4×10<tspan dx="1.00" dy="-4.50" font-size="9.8">6</tspan></text>
<line x1="1296.50" y1="916.04" x2="1302.90" y2="916.04" stroke="#141414" stroke-width="1.7" stroke-linecap="butt"/>
<text transform="translate(1255.94,920.64) scale(0.9694,1)" font-size="15" font-weight="bold" fill="#000" stroke="#000" stroke-width="0.0">2×10<tspan dx="1.00" dy="-4.50" font-size="9.8">6</tspan></text>
<text transform="translate(1285.44,959.45) scale(0.9404,1)" font-size="15" font-weight="bold" fill="#000" stroke="#000" stroke-width="0.25">0</text>
<text transform="translate(1245.70,871.51) rotate(-90) scale(0.9807,1)" font-size="16.7" font-weight="bold" fill="#000" stroke="#000" stroke-width="0.05">MFI</text>
<text transform="translate(1507.89,737.70) scale(0.8978,1)" font-size="20" font-weight="bold" fill="#000" stroke="#fff" stroke-width="0.18">Band 3</text>
<text x="1475.82" y="772.03" font-size="21.5" font-weight="normal" fill="#1a1a1a" letter-spacing="1.776" stroke="#1a1a1a" stroke-width="0.35">***</text>
<text x="1630.52" y="749.83" font-size="21.5" font-weight="normal" fill="#1a1a1a" letter-spacing="1.626" stroke="#1a1a1a" stroke-width="0.35">***</text>
<text x="1308.67" y="975.20" font-size="13.8" font-weight="bold" fill="#000" letter-spacing="0.183">Neg Control</text>
<text x="1399.74" y="975.20" font-size="13.8" font-weight="bold" fill="#000" letter-spacing="0.135">unstimulated</text>
<text transform="translate(1513.68,975.20) scale(0.9957,1)" font-size="13.8" font-weight="bold" fill="#000">6OHDA</text>
<text transform="translate(1629.41,975.20) scale(0.9322,1)" font-size="13.8" font-weight="bold" fill="#000">5</text>
<text transform="translate(1719.32,975.20) scale(0.9918,1)" font-size="13.8" font-weight="bold" fill="#000">22</text>
<line x1="1599.30" y1="985.50" x2="1763.80" y2="985.50" stroke="#6aa0d7" stroke-width="1.7" stroke-linecap="butt"/>
<text transform="translate(1643.74,1005.70) scale(0.9967,1)" font-size="19.3" font-weight="normal" fill="#1a1a1a" stroke="#1a1a1a" stroke-width="0.3">+ 6HODA</text>
</g>
<rect x="272.4" y="2.7" width="127.0" height="55.9" fill="#fff" stroke="#6aa0d7" stroke-width="1.7" rx="1.5"/>
<text transform="translate(284.62,41.10) scale(0.9556,1)" font-size="31" font-weight="normal" fill="#000" stroke="#000" stroke-width="0.35">Caco-2</text>
<rect x="906.8" y="5.4" width="165.5" height="55.9" fill="#fff" stroke="#6aa0d7" stroke-width="1.7" rx="1.5"/>
<text transform="translate(920.75,43.50) scale(0.9947,1)" font-size="29.8" font-weight="normal" fill="#000" stroke="#000" stroke-width="0.35">NCI-H441</text>
<rect x="1466.5" y="5.4" width="133.8" height="54.6" fill="#fff" stroke="#6aa0d7" stroke-width="1.7" rx="1.5"/>
<text transform="translate(1479.13,43.80) scale(0.8552,1)" font-size="30.5" font-weight="normal" fill="#000" stroke="#000" stroke-width="0.35">SHSY5Y</text>
</svg>
</body>
</html>
